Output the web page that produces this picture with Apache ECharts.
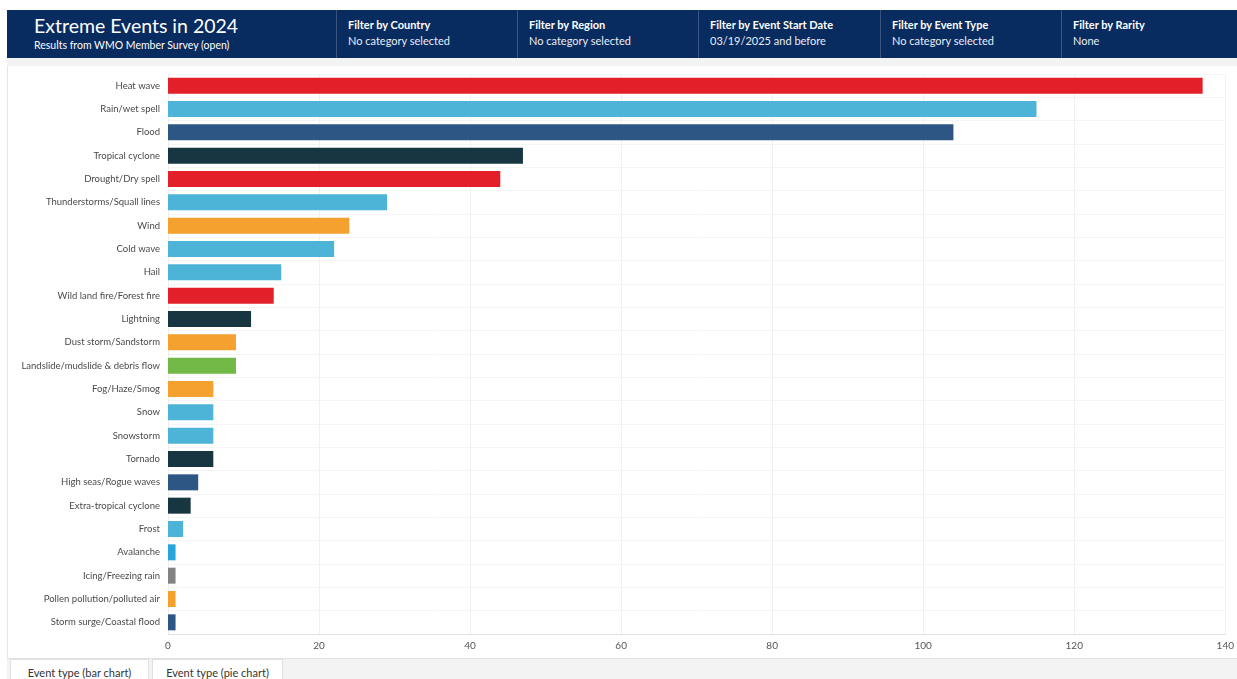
<!DOCTYPE html>
<html>
<head>
<meta charset="utf-8">
<script src="https://cdn.jsdelivr.net/npm/echarts@6/dist/echarts.min.js"></script>
<style>
  html, body { margin: 0; padding: 0; background: #fff; font-family: Lato, "Open Sans", sans-serif; overflow: hidden; }
  #page { position: relative; width: 1237px; height: 679px; overflow: hidden; }
  #header { position: absolute; left: 7px; top: 10px; width: 1230px; height: 48px; background: #082b60; color: #fff; }
  #title { position: absolute; left: 27px; top: 4px; font-size: 19.5px; font-weight: 400; }
  #subtitle { position: absolute; left: 27px; top: 29px; font-size: 10.5px; }
  .filter { position: absolute; top: 0; height: 48px; border-left: 1px solid #3a5680; }
  .filter .lab { position: absolute; left: 11px; top: 8px; font-size: 11px; font-weight: 700; white-space: nowrap; }
  .filter .val { position: absolute; left: 11px; top: 24px; font-size: 11px; white-space: nowrap; color: #e8edf5; }
  #strip { position: absolute; left: 7px; top: 58px; width: 1230px; height: 8px; background: #f3f3f3; }
  #chart { position: absolute; left: 7px; top: 66px; width: 1230px; height: 592px; }
  #edge { position: absolute; left: 7px; top: 66px; width: 1px; height: 592px; background: #e6e6e6; }
  #tabs { position: absolute; left: 7px; top: 658px; width: 1230px; height: 21px; background: #f3f3f3; border-top: 1px solid #e2e2e2; }
  .tab { position: absolute; top: 0; height: 22px; background: #fff; border: 1px solid #e0e0e0; border-bottom: none; font-size: 11px; color: #333; box-sizing: border-box; padding: 6px 0 0 0; text-align: center; }
</style>
</head>
<body>
<div id="page">
  <div id="header">
    <div id="title">Extreme Events in 2024</div>
    <div id="subtitle">Results from WMO Member Survey (open)</div>
    <div class="filter" style="left:329px"><div class="lab">Filter by Country</div><div class="val">No category selected</div></div>
    <div class="filter" style="left:510px"><div class="lab">Filter by Region</div><div class="val">No category selected</div></div>
    <div class="filter" style="left:691px"><div class="lab">Filter by Event Start Date</div><div class="val">03/19/2025 and before</div></div>
    <div class="filter" style="left:873px"><div class="lab">Filter by Event Type</div><div class="val">No category selected</div></div>
    <div class="filter" style="left:1054px"><div class="lab">Filter by Rarity</div><div class="val">None</div></div>
  </div>
  <div id="strip"></div>
  <div id="chart"></div>
  <div id="edge"></div>
  <div id="tabs">
    <div class="tab" style="left:3px;width:139px">Event type (bar chart)</div>
    <div class="tab" style="left:145px;width:131px">Event type (pie chart)</div>
  </div>
</div>
<script>
// event types, top to bottom as in the picture
const categories = [
  "Heat wave", "Rain/wet spell", "Flood", "Tropical cyclone", "Drought/Dry spell",
  "Thunderstorms/Squall lines", "Wind", "Cold wave", "Hail", "Wild land fire/Forest fire",
  "Lightning", "Dust storm/Sandstorm", "Landslide/mudslide & debris flow", "Fog/Haze/Smog",
  "Snow", "Snowstorm", "Tornado", "High seas/Rogue waves", "Extra-tropical cyclone",
  "Frost", "Avalanche", "Icing/Freezing rain", "Pollen pollution/polluted air", "Storm surge/Coastal flood"
];
const counts = [137, 115, 104, 47, 44, 29, 24, 22, 15, 14, 11, 9, 9, 6, 6, 6, 6, 4, 3, 2, 1, 1, 1, 1];
const xTicks = [0, 20, 40, 60, 80, 100, 120, 140];

// bar colours, same order as categories
const RED = "#e3202a", SKY = "#4db4d7", NAVY = "#2d5685", INK = "#183642", ORANGE = "#f4a12f", GREEN = "#72b846", GREY = "#838383", BLUE = "#27a4da";
const barColors = [RED, SKY, NAVY, INK, RED, SKY, ORANGE, SKY, SKY, RED, INK, ORANGE, GREEN, ORANGE,
  SKY, SKY, INK, NAVY, INK, SKY, BLUE, GREY, ORANGE, NAVY];

const chart = echarts.init(document.getElementById("chart"), null, { renderer: "canvas", width: 1230, height: 592 });
chart.setOption({
  animation: false,
  textStyle: { fontFamily: "Lato" },
  grid: { left: 161, right: 9, top: 8, bottom: 24, containLabel: false },
  xAxis: {
    type: "value",
    min: xTicks[0],
    max: xTicks[xTicks.length - 1],
    interval: 20,
    axisLine: { show: true, lineStyle: { color: "#e2e2e2" } },
    axisTick: { show: false },
    axisLabel: { color: "#555", fontSize: 10, margin: 7, showMaxLabel: true },
    splitLine: { show: true, lineStyle: { color: "#f1f1f1" } }
  },
  yAxis: {
    type: "category",
    inverse: true,
    data: categories,
    axisLine: { show: true, lineStyle: { color: "#eeeeee" } },
    axisTick: { show: false },
    axisLabel: { color: "#4a4a4a", fontSize: 9.5, margin: 8 },
    splitLine: { show: true, lineStyle: { color: "#f5f5f5" } }
  },
  series: [{
    type: "bar",
    barWidth: 16,
    data: counts.map((v, i) => ({ value: v, itemStyle: { color: barColors[i] } })),
    label: { show: false }
  }]
});
</script>
</body>
</html>
